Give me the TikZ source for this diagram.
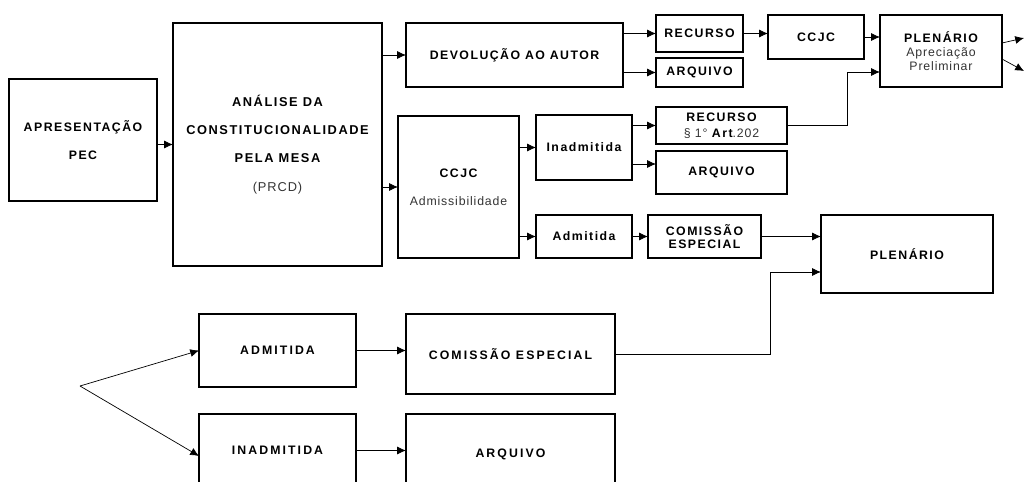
\documentclass[tikz,border=0pt]{standalone}
\usepackage{fontspec}
\newfontfamily\boxfont[LetterSpace=12]{Liberation Sans}
\newfontfamily\wideboxfont[LetterSpace=17]{Liberation Sans}
\usetikzlibrary{arrows.meta}
\definecolor{softtext}{HTML}{333333}
\newcommand\lighttext[1]{{\mdseries\addfontfeature{LetterSpace=7}\color{softtext}#1}}

\begin{document}
\begin{tikzpicture}[x=0.02cm, y=-0.02cm, >={Latex[length=5pt,width=4.5pt]}, thin,
  main node/.style={draw, line width=1.6pt, inner sep=0pt, outer sep=0pt, align=center, font=\boxfont\bfseries\fontsize{7}{8}\selectfont},
  low node/.style={main node, font=\wideboxfont\bfseries\fontsize{7}{8}\selectfont}]

      \useasboundingbox (0,0) rectangle (1024,481);

      \node[main node, minimum width=2.96cm, minimum height=2.44cm] (1) at (83,140) {APRESENTAÇÃO\\[8pt]PEC};
      \node[main node, minimum width=4.18cm, minimum height=4.86cm, font=\boxfont\bfseries\fontsize{7.3}{8}\selectfont] (2) at (277.5,144.5) {ANÁLISE DA\\[8pt]CONSTITUCIONALIDADE\\[8pt]PELA MESA\\[8pt]\lighttext{(PRCD)}};
      \node[main node, minimum width=4.34cm, minimum height=1.28cm] (3) at (514.5,55) {DEVOLUÇÃO AO AUTOR};
      \node[main node, minimum width=2.42cm, minimum height=2.84cm] (4) at (458.5,187) {CCJC\\[8pt]\lighttext{Admissibilidade}};
      \node[main node, minimum width=1.74cm, minimum height=0.74cm] (5) at (699.5,33.5) {RECURSO};
      \node[main node, minimum width=1.74cm, minimum height=0.58cm] (6) at (699.5,72.5) {ARQUIVO};
      \node[main node, minimum width=1.92cm, minimum height=0.88cm] (7) at (816,37) {CCJC};
      \node[main node, minimum width=2.44cm, minimum height=1.44cm] (8) at (941,51) {PLENÁRIO\\\lighttext{Apreciação}\\\lighttext{Preliminar}};
      \node[main node, minimum width=1.92cm, minimum height=1.30cm] (9) at (584,147.5) {Inadmitida};
      \node[main node, minimum width=2.62cm, minimum height=0.74cm] (10) at (721.5,125.5) {RECURSO\\[1pt]\lighttext{§ 1° }Art\lighttext{.202}};
      \node[main node, minimum width=2.62cm, minimum height=0.86cm] (11) at (721.5,172.5) {ARQUIVO};
      \node[main node, minimum width=1.92cm, minimum height=0.86cm] (12) at (584,236.5) {Admitida};
      \node[main node, minimum width=2.26cm, minimum height=0.86cm] (13) at (704.5,236.5) {COMISSÃO\\[-0.5pt]ESPECIAL};
      \node[main node, minimum width=3.44cm, minimum height=1.56cm] (14) at (907,254) {PLENÁRIO};
      \node[low node, minimum width=3.14cm, minimum height=1.46cm] (15) at (277.5,350.5) {ADMITIDA};
      \node[low node, minimum width=4.18cm, minimum height=1.60cm] (16) at (510.5,354) {COMISSÃO ESPECIAL};
      \node[low node, minimum width=3.14cm, minimum height=1.46cm] (17) at (277.5,450.5) {INADMITIDA};
      \node[low node, minimum width=4.18cm, minimum height=1.60cm] (18) at (510.5,454) {ARQUIVO};

      \coordinate (out1) at (1024,38);
      \coordinate (out2) at (1024,71);
      \coordinate (fork) at (80,386);
      \coordinate (in11) at ([yshift=0.17cm]11.west);
      \coordinate (in17) at ([yshift=-0.11cm]17.west);
      \coordinate (up8) at ([yshift=0.16cm]8.east);
      \coordinate (dn8) at ([yshift=-0.16cm]8.east);

      \path[->]
        (1.east |- 2.west) edge (2.west)
        (3.west -| 2.east) edge (3.west)
        (4.west -| 2.east) edge (4.west)
        (5.west -| 3.east) edge (5.west)
        (6.west -| 3.east) edge (6.west)
        (5.east) edge (5.east -| 7.west)
        (7.east) edge (7.east -| 8.west)
        (up8) edge (out1)
        (dn8) edge (out2)
        (9.west -| 4.east) edge (9.west)
        (10.west -| 9.east) edge (10.west)
        (in11 -| 9.east) edge (in11)
        (12.west -| 4.east) edge (12.west)
        (12) edge (13)
        (13.east) edge (13.east -| 14.west)
        (15.east) edge (15.east -| 16.west)
        (17.east) edge (17.east -| 18.west)
        (fork) edge (15.west)
        (fork) edge (in17);

      \draw[->] (10.east) -- ++(60,0) |- ([yshift=-0.42cm]8.west);
      \draw[->] (16.east) -- ++(155,0) |- ([yshift=-0.36cm]14.west);

\end{tikzpicture}
\end{document}
